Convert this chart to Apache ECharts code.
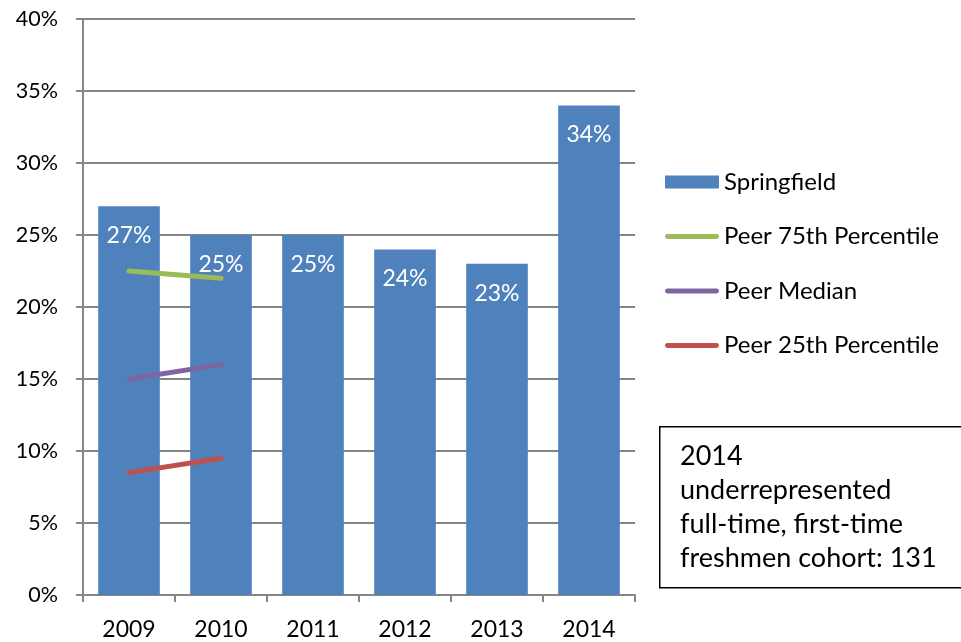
<!DOCTYPE html>
<html>
<head>
<meta charset="utf-8">
<script src="https://cdn.jsdelivr.net/npm/echarts@6/dist/echarts.min.js"></script>
<style>
  html, body { margin: 0; padding: 0; background: #fff; }
  #chart { width: 961px; height: 642px; }
</style>
</head>
<body>
<div id="chart"></div>
<script>
const years = ['2009', '2010', '2011', '2012', '2013', '2014']
const springfield = [27, 25, 25, 24, 23, 34]
const peer75 = [22.5, 22, null, null, null, null]
const peerMedian = [15, 16, null, null, null, null]
const peer25 = [8.5, 9.5, null, null, null, null]
const yTicks = [0, 5, 10, 15, 20, 25, 30, 35, 40]

const font = 'Lato, "Open Sans", sans-serif'
const lineIcon = 'path://M2.5,0 H53.5 A2.5,2.5 0 0 1 53.5,5 H2.5 A2.5,2.5 0 0 1 2.5,0 Z'
const chart = echarts.init(document.getElementById('chart'))

const lineSeries = (name, data, color) => ({
  name,
  type: 'line',
  data,
  showSymbol: false,
  symbol: 'none',
  lineStyle: { color, width: 5, cap: 'round' },
  itemStyle: { color },
  silent: true,
  z: 3
})

chart.setOption({
  animation: false,
  textStyle: { fontFamily: font },
  grid: { left: 83, right: 326, top: 19, bottom: 47 },
  legend: {
    orient: 'vertical',
    left: 665,
    top: 170,
    padding: 0,
    itemWidth: 54,
    itemHeight: 13,
    itemGap: 30.5,
    textStyle: { fontSize: 24, color: '#000', fontFamily: font },
    data: [
      { name: 'Springfield', icon: 'rect' },
      { name: 'Peer 75th Percentile', icon: lineIcon },
      { name: 'Peer Median', icon: lineIcon },
      { name: 'Peer 25th Percentile', icon: lineIcon }
    ]
  },
  xAxis: {
    type: 'category',
    data: years,
    axisLine: { lineStyle: { color: '#868686', width: 2 } },
    axisTick: { show: true, length: 7, lineStyle: { color: '#868686', width: 2 } },
    axisLabel: { fontSize: 23, color: '#000', margin: 23, fontFamily: font }
  },
  yAxis: {
    type: 'value',
    min: 0,
    max: 40,
    interval: 5,
    axisLine: { show: true, lineStyle: { color: '#868686', width: 2 } },
    axisTick: { show: true, length: 7, lineStyle: { color: '#868686', width: 2 } },
    axisLabel: {
      fontSize: 21.5, color: '#000', margin: 25, fontFamily: font,
      formatter: v => yTicks.includes(v) ? v + '%' : ''
    },
    splitLine: { lineStyle: { color: '#868686', width: 2 } }
  },
  series: [
    {
      name: 'Springfield',
      type: 'bar',
      data: springfield,
      barCategoryGap: '33%',
      itemStyle: { color: '#4f81bd' },
      label: {
        show: true,
        position: 'insideTop',
        distance: 18,
        color: '#fff',
        fontSize: 23,
        fontFamily: font,
        formatter: p => p.value + '%'
      },
      z: 2
    },
    lineSeries('Peer 75th Percentile', peer75, '#9bbb59'),
    lineSeries('Peer Median', peerMedian, '#8064a2'),
    lineSeries('Peer 25th Percentile', peer25, '#c0504d')
  ],
  graphic: [
    {
      type: 'rect',
      left: 659,
      top: 426,
      shape: { width: 320, height: 161 },
      style: { fill: '#fff', stroke: '#000', lineWidth: 1.5 }
    },
    {
      type: 'text',
      left: 680,
      top: 439,
      style: {
        text: '2014\nunderrepresented\nfull-time, first-time\nfreshmen cohort: 131',
        fontSize: 27,
        lineHeight: 34,
        fill: '#000',
        fontFamily: font
      }
    }
  ]
})

window.addEventListener('resize', () => chart.resize())
</script>
</body>
</html>
